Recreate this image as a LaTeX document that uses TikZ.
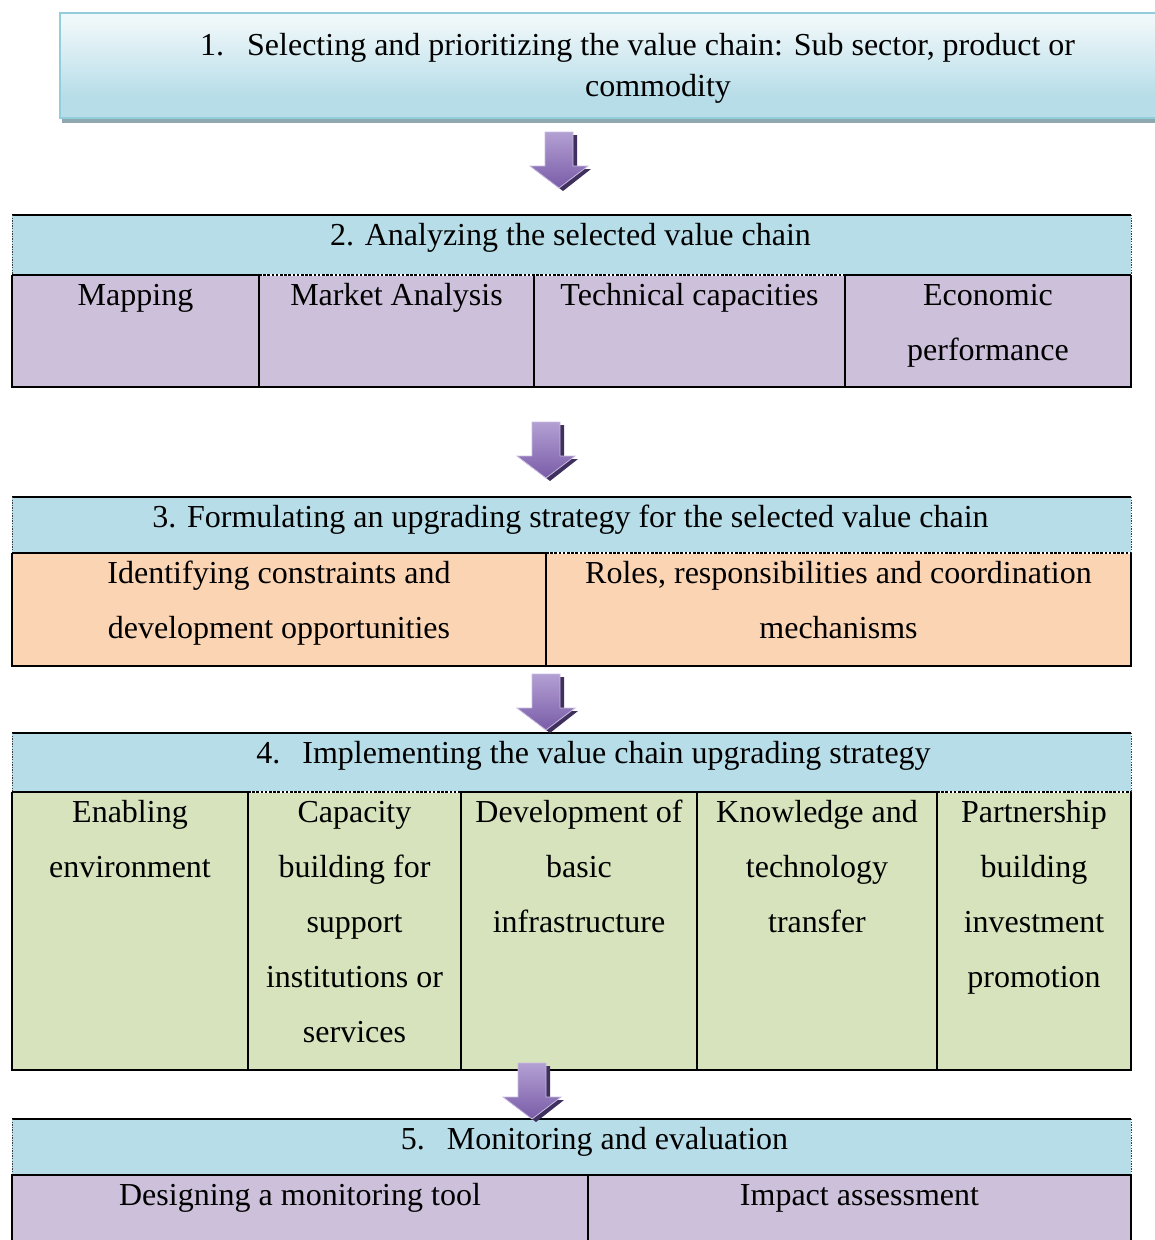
\documentclass[tikz,border=0pt]{standalone}
\usepackage{fontspec}
\setmainfont{Liberation Serif}
\usetikzlibrary{calc}

\definecolor{hblue}{HTML}{B7DDE8}
\definecolor{hedge}{HTML}{92CDDC}
\definecolor{hshadow}{HTML}{8DA8AE}
\definecolor{lilac}{HTML}{CCC0DA}
\definecolor{peach}{HTML}{FBD4B4}
\definecolor{sage}{HTML}{D7E3BC}
\definecolor{arrowtop}{HTML}{B3A0D3}
\definecolor{arrowbot}{HTML}{7A5CA8}
\definecolor{arrowdark}{HTML}{3F305E}
\definecolor{arrowrim}{HTML}{C8BAE0}

% first-line strut: puts the first baseline 24pt below the top of a text node
\newcommand\tstrut{\rule{0pt}{24pt}}

\pgfdeclareverticalshading{boxfade}{100bp}{%
  color(0bp)=(hblue); color(35bp)=(hblue); color(70bp)=(white!75!hblue); color(100bp)=(white)}

\tikzset{
  cell/.style={draw=none, inner sep=0pt, outer sep=0pt, anchor=north west},
  ctext/.style={font=\fontsize{32}{55}\selectfont, align=center, inner sep=0pt,
                anchor=north, yshift=-6pt},
  frame/.style={line width=2pt, black},
  divider/.style={line width=1.6pt, black},
  sidedot/.style={line width=0.9pt, black!75, dash pattern=on 1.3pt off 1.3pt},
  gapwhite/.style={line width=1.6pt, white},
  gapdash/.style={line width=1.6pt, black, dash pattern=on 2.6pt off 1.6pt},
  downarrow/.pic={
    % dark offset body gives the raised look
    \fill[arrowdark] (-10,3) -- (18,3) -- (18,37) -- (32,37) -- (4,59) -- (-25,37) -- (-10,37) -- cycle;
    \shade[top color=arrowtop, bottom color=arrowbot, draw=arrowrim, line width=0.8pt]
      (-14,0) -- (14,0) -- (14,34) -- (29,34) -- (0,56) -- (-29,34) -- (-14,34) -- cycle;
  }
}

\begin{document}
\begin{tikzpicture}[x=1pt, y=-1pt]
\useasboundingbox (0,0) rectangle (1155,1240);
\clip (0,0) rectangle (1155,1240);

% ---------- step 1: shaded banner ----------
\fill[hshadow] (62,20) rectangle (1170,123);
\node[cell, minimum width=1110pt, minimum height=105pt, draw=hedge, line width=2pt,
      shade, shading=boxfade] (s1) at (60,13) {};
\node[font=\fontsize{32}{42}\selectfont, inner sep=0pt, anchor=base west] (s1a) at (200,55)
  {1.\hspace{23pt}Selecting and prioritizing the value chain: Sub sector, product or};
\node[font=\fontsize{32}{42}\selectfont, inner sep=0pt, anchor=base] (s1b) at (658,96) {commodity};

% ---------- step 2 ----------
\node[cell, fill=hblue, minimum width=1119pt, minimum height=60pt] (h2) at (12,215) {};
\node[cell, fill=lilac, minimum width=247pt, minimum height=112pt] (c2a) at (12,275) {};
\node[cell, fill=lilac, minimum width=275pt, minimum height=112pt] (c2b) at (259,275) {};
\node[cell, fill=lilac, minimum width=311pt, minimum height=112pt] (c2c) at (534,275) {};
\node[cell, fill=lilac, minimum width=286pt, minimum height=112pt] (c2d) at (845,275) {};

\node[ctext, xshift=-1pt] (t2) at (h2.north) {\tstrut 2. Analyzing the selected value chain};
\node[ctext] (t2a) at (c2a.north) {\tstrut Mapping};
\node[ctext] (t2b) at (c2b.north) {\tstrut Market Analysis};
\node[ctext] (t2c) at (c2c.north) {\tstrut Technical capacities};
\node[ctext] (t2d) at (c2d.north) {\tstrut Economic\\performance};

\draw[frame] (h2.north west) -- (h2.north east);
\draw[sidedot] (h2.north west) -- (h2.south west);
\draw[sidedot] (h2.north east) -- (h2.south east);
\draw[frame] (c2a.north west) -- (c2a.south west) -- (c2d.south east) -- (c2d.north east);
\draw[divider] (c2a.north east) -- (c2a.south east);
\draw[divider] (c2b.north east) -- (c2b.south east);
\draw[divider] (c2c.north east) -- (c2c.south east);
\draw[frame] (c2a.north west) -- (c2a.north east);
\draw[gapwhite] (c2b.north west) -- (c2c.north east);
\draw[gapdash] (c2b.north west) -- (c2c.north east);
\draw[frame] (c2d.north west) -- (c2d.north east);

% ---------- step 3 ----------
\node[cell, fill=hblue, minimum width=1119pt, minimum height=56pt] (h3) at (12,497) {};
\node[cell, fill=peach, minimum width=534pt, minimum height=113pt] (c3a) at (12,553) {};
\node[cell, fill=peach, minimum width=585pt, minimum height=113pt] (c3b) at (546,553) {};

\node[ctext, xshift=-1pt] (t3) at (h3.north) {\tstrut 3. Formulating an upgrading strategy for the selected value chain};
\node[ctext] (t3a) at (c3a.north) {\tstrut Identifying constraints and\\development opportunities};
\node[ctext] (t3b) at (c3b.north) {\tstrut Roles, responsibilities and coordination\\mechanisms};

\draw[frame] (h3.north west) -- (h3.north east);
\draw[sidedot] (h3.north west) -- (h3.south west);
\draw[sidedot] (h3.north east) -- (h3.south east);
\draw[frame] (c3a.north west) -- (c3a.south west) -- (c3b.south east) -- (c3b.north east);
\draw[divider] (c3a.north east) -- (c3a.south east);
\draw[frame] (c3a.north west) -- (c3a.north east);
\draw[gapwhite] (c3b.north west) -- (c3b.north east);
\draw[gapdash] (c3b.north west) -- (c3b.north east);

% ---------- step 4 ----------
\node[cell, fill=hblue, minimum width=1119pt, minimum height=59pt] (h4) at (12,733) {};
\node[cell, fill=sage, minimum width=236pt, minimum height=278pt] (c4a) at (12,792) {};
\node[cell, fill=sage, minimum width=213pt, minimum height=278pt] (c4b) at (248,792) {};
\node[cell, fill=sage, minimum width=236pt, minimum height=278pt] (c4c) at (461,792) {};
\node[cell, fill=sage, minimum width=240pt, minimum height=278pt] (c4d) at (697,792) {};
\node[cell, fill=sage, minimum width=194pt, minimum height=278pt] (c4e) at (937,792) {};

\node[ctext, xshift=22pt] (t4) at (h4.north) {\tstrut 4.\hspace{22pt}Implementing the value chain upgrading strategy};
\node[ctext] (t4a) at (c4a.north) {\tstrut Enabling\\environment};
\node[ctext] (t4b) at (c4b.north) {\tstrut Capacity\\building for\\support\\institutions or\\services};
\node[ctext] (t4c) at (c4c.north) {\tstrut Development of\\basic\\infrastructure};
\node[ctext] (t4d) at (c4d.north) {\tstrut Knowledge and\\technology\\transfer};
\node[ctext] (t4e) at (c4e.north) {\tstrut Partnership\\building\\investment\\promotion};

\draw[frame] (h4.north west) -- (h4.north east);
\draw[sidedot] (h4.north west) -- (h4.south west);
\draw[sidedot] (h4.north east) -- (h4.south east);
\draw[frame] (c4a.north west) -- (c4a.south west) -- (c4e.south east) -- (c4e.north east);
\draw[divider] (c4a.north east) -- (c4a.south east);
\draw[divider] (c4b.north east) -- (c4b.south east);
\draw[divider] (c4c.north east) -- (c4c.south east);
\draw[divider] (c4d.north east) -- (c4d.south east);
\draw[frame] (c4a.north west) -- (c4a.north east);
\draw[gapwhite] (c4b.north west) -- (c4b.north east);
\draw[gapdash] (c4b.north west) -- (c4b.north east);
\draw[frame] (c4c.north west) -- (c4d.north east);
\draw[gapwhite] (c4e.north west) -- (c4e.north east);
\draw[gapdash] (c4e.north west) -- (c4e.north east);

% ---------- step 5 ----------
\node[cell, fill=hblue, minimum width=1119pt, minimum height=56pt] (h5) at (12,1119) {};
\node[cell, fill=lilac, minimum width=576pt, minimum height=80pt] (c5a) at (12,1175) {};
\node[cell, fill=lilac, minimum width=543pt, minimum height=80pt] (c5b) at (588,1175) {};

\node[ctext, xshift=23pt] (t5) at (h5.north) {\tstrut 5.\hspace{22pt}Monitoring and evaluation};
\node[ctext] (t5a) at (c5a.north) {\tstrut Designing a monitoring tool};
\node[ctext] (t5b) at (c5b.north) {\tstrut Impact assessment};

\draw[frame] (h5.north west) -- (h5.north east);
\draw[sidedot] (h5.north west) -- (h5.south west);
\draw[sidedot] (h5.north east) -- (h5.south east);
\draw[frame] (c5a.south west) -- (c5a.north west) -- (c5b.north east) -- (c5b.south east);
\draw[divider] (c5a.north east) -- (c5a.south east);

% ---------- block arrows between the steps ----------
\pic (arr1) at (559,132) {downarrow};
\pic (arr2) at (546,422) {downarrow};
\pic (arr3) at (546,674) {downarrow};
\pic (arr4) at (532,1063) {downarrow};

\end{tikzpicture}
\end{document}
